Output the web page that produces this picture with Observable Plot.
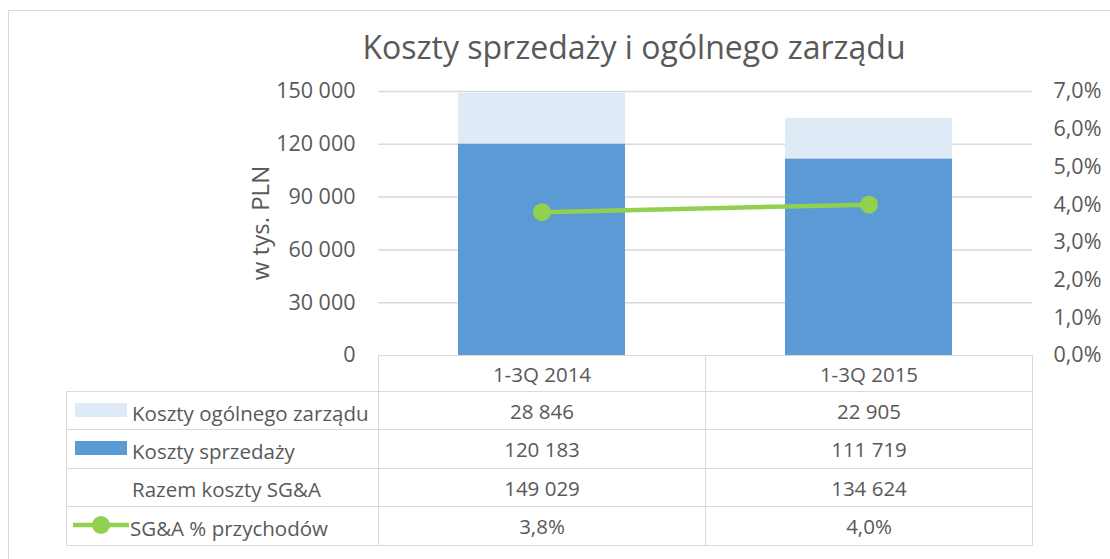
<!DOCTYPE html>
<html>
<head>
<meta charset="utf-8">
<script src="https://cdn.jsdelivr.net/npm/d3@7"></script>
<script src="https://cdn.jsdelivr.net/npm/@observablehq/plot@0.6"></script>
<style>
  html, body { margin: 0; padding: 0; background: #fff; }
  #wrap { position: relative; width: 1110px; height: 559px; overflow: hidden; font-family: "Open Sans", sans-serif; color: #595959; }
  #frame { position: absolute; left: 8px; top: 10px; width: 1200px; height: 700px; border: 1.5px solid #d9d9d9; box-sizing: border-box; }
  #title { position: absolute; left: 334px; width: 600px; top: 25px; text-align: center; font-size: 32px; line-height: 44px; white-space: nowrap; }
  #ylabel { position: absolute; left: 259px; top: 223px; transform: translate(-50%, -50%) rotate(-90deg); font-size: 24px; white-space: nowrap; }
  .layer { position: absolute; left: 0; top: 0; }
  #table { position: absolute; left: 66px; top: 355px; border-collapse: collapse; table-layout: fixed; font-size: 20.5px; color: #595959; }
  #table td { border: 1.5px solid #d9d9d9; height: 37.4px; padding: 0; text-align: center; white-space: nowrap; }
  #table tr.header td { height: 35.1px; }
  #table td.lab { text-align: left; padding-left: 8px; }
  #table td.blank { border-top: none; border-left: none; }
  .key { display: inline-block; vertical-align: middle; width: 52px; height: 14px; margin-right: 5px; position: relative; top: -2px; }
</style>
</head>
<body>
<div id="wrap">
  <div id="frame"></div>
  <div id="title">Koszty sprzedaży i ogólnego zarządu</div>
  <div id="ylabel">w tys. PLN</div>
  <div id="bars" class="layer"></div>
  <div id="line" class="layer"></div>
  <table id="table"></table>
</div>
<script>
// ---- data ----
const categories = ["1-3Q 2014", "1-3Q 2015"];
const kosztySprzedazy = [120183, 111719];
const kosztyZarzadu = [28846, 22905];
const razemSGA = [149029, 134624];
const sgaPct = [3.8, 4.0];
const leftTicks = [0, 30000, 60000, 90000, 120000, 150000];
const rightTicks = [0, 1, 2, 3, 4, 5, 6, 7];
const seriesNames = ["Koszty sprzedaży", "Koszty ogólnego zarządu", "Razem koszty SG&A", "SG&A % przychodów"];

const colSprzedazy = "#5b9bd5";
const colZarzadu = "#deeaf6";
const colPct = "#92d050";
const textCol = "#595959";
const gridCol = "#d9d9d9";

const pl = d3.formatLocale({decimal: ",", thousands: "\u00a0", grouping: [3], currency: ["", " zł"]});
const fmtNum = pl.format(",d");
const fmtPct = pl.format(".1%");

const W = 1110, H = 559;
const margins = {marginTop: 91, marginBottom: H - 355, marginLeft: 378, marginRight: W - 1032};
const xOpts = {type: "band", domain: categories, paddingInner: 0.49, paddingOuter: 0.245};
const style = {fontFamily: "Open Sans", fontSize: "21.5px", color: textCol, background: "transparent", overflow: "visible"};

// stacked bars
const barRows = [];
categories.forEach((c, i) => barRows.push({cat: c, series: seriesNames[0], value: kosztySprzedazy[i]}));
categories.forEach((c, i) => barRows.push({cat: c, series: seriesNames[1], value: kosztyZarzadu[i]}));

const barPlot = Plot.plot({
  width: W, height: H, ...margins, style,
  x: {...xOpts, axis: null},
  y: {domain: [0, 150000], axis: null},
  color: {domain: [seriesNames[0], seriesNames[1]], range: [colSprzedazy, colZarzadu]},
  marks: [
    Plot.gridY(leftTicks.filter(d => d > 0), {stroke: gridCol, strokeOpacity: 1, strokeWidth: 1.5}),
    Plot.barY(barRows, {x: "cat", y: "value", fill: "series"}),
    Plot.axisY(leftTicks, {anchor: "left", tickSize: 0, tickPadding: 23, tickFormat: fmtNum, label: null, fill: textCol})
  ]
});
document.getElementById("bars").appendChild(barPlot);

// percentage line on secondary axis
const lineRows = categories.map((c, i) => ({cat: c, pct: sgaPct[i]}));
const linePlot = Plot.plot({
  width: W, height: H, ...margins, style,
  x: {...xOpts, axis: null},
  y: {domain: [0, 7], axis: null},
  marks: [
    Plot.line(lineRows, {x: "cat", y: "pct", stroke: colPct, strokeWidth: 4.5}),
    Plot.dot(lineRows, {x: "cat", y: "pct", r: 9, fill: colPct, stroke: "none"}),
    Plot.axisY(rightTicks, {anchor: "right", tickSize: 0, tickPadding: 21, tickFormat: d => fmtPct(d / 100), label: null, fill: textCol})
  ]
});
document.getElementById("line").appendChild(linePlot);

// data table
const table = document.getElementById("table");
const colgroup = document.createElement("colgroup");
[312, 327, 327].forEach(w => { const c = document.createElement("col"); c.style.width = w + "px"; colgroup.appendChild(c); });
table.appendChild(colgroup);

function keySwatch(kind) {
  if (kind === "rect0") return `<span class="key" style="background:${colZarzadu}"></span>`;
  if (kind === "rect1") return `<span class="key" style="background:${colSprzedazy}"></span>`;
  if (kind === "line") return `<svg class="key" width="56" height="20" style="height:20px;width:56px;margin-right:1px;margin-left:-2px" viewBox="0 0 56 20"><line x1="0" y1="10" x2="56" y2="10" stroke="${colPct}" stroke-width="4.5"/><circle cx="28" cy="10" r="9" fill="${colPct}"/></svg>`;
  return `<span class="key" style="background:transparent"></span>`;
}
const rows = [
  {cls: "header", label: null, vals: categories},
  {label: seriesNames[1], key: "rect0", vals: kosztyZarzadu.map(fmtNum)},
  {label: seriesNames[0], key: "rect1", vals: kosztySprzedazy.map(fmtNum)},
  {label: seriesNames[2], key: "none", vals: razemSGA.map(fmtNum)},
  {label: seriesNames[3], key: "line", vals: sgaPct.map(d => fmtPct(d / 100))}
];
rows.forEach(r => {
  const tr = document.createElement("tr");
  if (r.cls) tr.className = r.cls;
  const td0 = document.createElement("td");
  if (r.label === null) { td0.className = "blank"; }
  else { td0.className = "lab"; td0.innerHTML = keySwatch(r.key) + `<span style="vertical-align:middle">${r.label.replace("&", "&amp;")}</span>`; }
  tr.appendChild(td0);
  r.vals.forEach(v => { const td = document.createElement("td"); td.textContent = v; tr.appendChild(td); });
  table.appendChild(tr);
});
</script>
</body>
</html>
